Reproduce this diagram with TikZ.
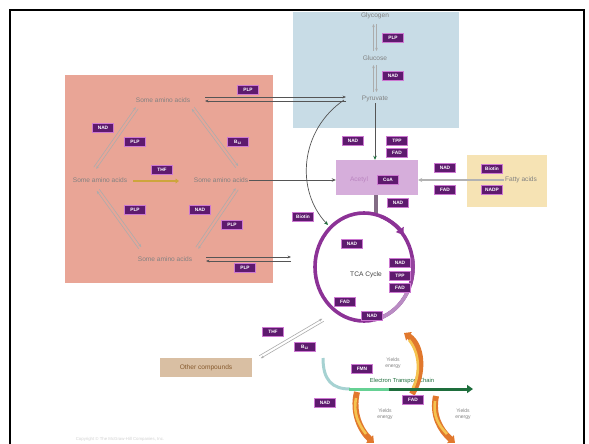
\documentclass[tikz,border=0pt]{standalone}
\usepackage{fontspec}
\setmainfont{Liberation Sans}
\usetikzlibrary{arrows.meta,calc}
\definecolor{labfill}{RGB}{94,26,110}
\definecolor{labedge}{RGB}{205,120,210}
\definecolor{bluebg}{RGB}{200,220,230}
\definecolor{redbg}{RGB}{233,165,150}
\definecolor{acbg}{RGB}{214,174,219}
\definecolor{yelbg}{RGB}{246,227,180}
\definecolor{tanbg}{RGB}{217,191,163}
\definecolor{tcapurple}{RGB}{140,50,150}
\definecolor{tcalight}{RGB}{185,140,195}
\definecolor{txtgray}{RGB}{130,130,130}
\definecolor{darkln}{RGB}{85,85,85}
\definecolor{arrgreen}{RGB}{30,110,60}
\definecolor{engorange}{RGB}{225,120,45}
\definecolor{engyellow}{RGB}{245,195,80}
\tikzset{
  lbl/.style={fill=labfill, draw=labedge, line width=0.8pt, text=white,
    font=\bfseries\fontsize{4.8}{5}\selectfont, inner sep=0pt,
    minimum width=21pt, minimum height=9pt},
  txt/.style={text=txtgray, font=\fontsize{6.6}{7.5}\selectfont, inner sep=1pt},
  pairln/.style={gray!65, line width=0.6pt},
  energy/.style={engorange, line width=6pt, -{Triangle[length=6pt,width=10pt]}},
  energyin/.style={engyellow, line width=2.6pt}
}
\newcommand{\pairarr}[2]{%
  \draw[pairln,-{Stealth[length=3.2pt,width=2.6pt]}] ($(#1)!1.5pt!90:(#2)$) -- ($(#2)!1.5pt!-90:(#1)$);
  \draw[pairln,-{Stealth[length=3.2pt,width=2.6pt]}] ($(#2)!1.5pt!90:(#1)$) -- ($(#1)!1.5pt!-90:(#2)$);}
\begin{document}
\begin{tikzpicture}[x=1pt,y=-1pt]
\useasboundingbox (0,0) rectangle (589,444);
\fill[white] (0,0) rectangle (589,444);
% background regions
\fill[bluebg] (293,12) rectangle (459,128);
\fill[redbg] (65,75) rectangle (273,283);
\fill[yelbg] (467,155) rectangle (547,207);
\fill[tanbg] (160,358) rectangle (252,377);
\node[fill=acbg, minimum width=82pt, minimum height=35pt, inner sep=0pt] (acbox) at (377,177.5) {};
% texts
\node[txt] (glycogen) at (375,16) {Glycogen};
\node[txt] (glucose) at (375,58) {Glucose};
\node[txt] (pyruvate) at (375,99) {Pyruvate};
\node[txt] (aa1) at (163,100) {Some amino acids};
\node[txt] (aa2) at (100,180) {Some amino acids};
\node[txt] (aa3) at (221,180) {Some amino acids};
\node[txt] (aa4) at (165,259) {Some amino acids};
\node[txt, text=tcapurple!60] (acetyl) at (359,180) {Acetyl};
\node[txt, text=black!75] (tca) at (366,275) {TCA Cycle};
\node[txt] (fatty) at (521,180) {Fatty acids};
\node[txt, text=brown!70!black] (other) at (206,367.5) {Other compounds};
\node[txt, text=arrgreen, font=\fontsize{5.8}{7}\selectfont] (etc) at (402,381) {Electron Transport Chain};
\node[txt, align=center, font=\fontsize{5}{5.8}\selectfont] (yield1) at (393,363) {Yields\\energy};
\node[txt, align=center, font=\fontsize{5}{5.8}\selectfont] (yield2) at (385,414) {Yields\\energy};
\node[txt, align=center, font=\fontsize{5}{5.8}\selectfont] (yield3) at (463,414) {Yields\\energy};
\node[text=gray!35, font=\fontsize{4.3}{5}\selectfont, inner sep=0pt] (copy) at (120,439) {Copyright \textcopyright{} The McGraw-Hill Companies, Inc.};
% coordinates for connectors
\coordinate (gly1) at (375,24); \coordinate (gly2) at (375,51);
\coordinate (glu1) at (375,65); \coordinate (glu2) at (375,92);
\coordinate (d1a) at (137,108); \coordinate (d1b) at (95,168);
\coordinate (d2a) at (193,108); \coordinate (d2b) at (237,167);
\coordinate (d3a) at (98,190); \coordinate (d3b) at (140,248);
\coordinate (d4a) at (237,189); \coordinate (d4b) at (197,248);
\coordinate (oc1) at (260,357); \coordinate (oc2) at (323,320);
\coordinate (tcac) at (364,267);
\coordinate (pyl) at (344,100);
% vertical pairs
\pairarr{gly1}{gly2}
\pairarr{glu1}{glu2}
% diagonals in red box
\pairarr{d1a}{d1b}
\pairarr{d2a}{d2b}
\pairarr{d3a}{d3b}
\pairarr{d4a}{d4b}
\pairarr{oc1}{oc2}
% horizontal arrows
\draw[darkln, line width=0.6pt, -{Stealth[length=3.5pt,width=2.8pt]}] (205,97) -- (346,97);
\draw[darkln, line width=0.6pt, -{Stealth[length=3.5pt,width=2.8pt]}] (346,101) -- (205,101);
\draw[darkln, line width=0.6pt, -{Stealth[length=3.5pt,width=2.8pt]}] (206,257) -- (291,257);
\draw[darkln, line width=0.6pt, -{Stealth[length=3.5pt,width=2.8pt]}] (291,261) -- (206,261);
\draw[color={rgb,255:red,205;green,165;blue,60}, line width=2pt, -{Triangle[length=3.5pt,width=5pt]}] (aa2.east)++(5,1) -- (179,181);
% pyruvate -> acetyl
\draw[darkln, line width=0.7pt, -{Stealth[length=4pt,width=3.5pt,color=arrgreen]}] (pyruvate.south) -- (acbox.north -| pyruvate.south);
% amino acids -> acetyl
\draw[darkln, line width=0.7pt, -{Stealth[length=4pt,width=3.5pt]}] (aa3.east) -- (aa3.east -| acbox.west);
% curved pyruvate -> TCA
\draw[darkln, line width=0.7pt, -{Stealth[length=4pt,width=3.5pt,color=arrgreen]}] (pyl) .. controls (300,130) and (295,190) .. (328,225);
% fatty acids -> acetyl
\draw[gray!60, line width=1.2pt, -{Stealth[length=4pt,width=4pt]}] (fatty.west) -- (fatty.west -| acbox.east);
% stem
\draw[gray!75!tcapurple, line width=4.5pt] (acbox.south -| 376,0) -- (376,214);
% TCA ring
\draw[tcapurple, line width=3.6pt] (tcac) ellipse [x radius=49, y radius=54];
\draw[tcalight, line width=3.6pt] (tcac) ++(20:49 and 54) arc [start angle=20, end angle=80, x radius=49, y radius=54];
\draw[tcapurple!80!tcalight, line width=3.6pt] (tcac) ++(-10:49 and 54) arc [start angle=-10, end angle=20, x radius=49, y radius=54];
\draw[tcapurple, line width=3.6pt, -{Triangle[length=7pt,width=9pt]}] (tcac) ++(-70:49 and 54) arc [start angle=-70, end angle=-36, x radius=49, y radius=54];
% energy arcs
\draw[energy] (412,394) .. controls (425,372) and (422,345) .. (404,333);
\draw[energyin] (413,388) .. controls (421,372) and (419,352) .. (409,340);
\draw[energy] (357,392) .. controls (352,412) and (360,430) .. (374,443);
\draw[energyin] (356,398) .. controls (353,412) and (358,424) .. (366,434);
\draw[energy] (436,396) .. controls (432,415) and (440,430) .. (455,443);
\draw[energyin] (435,401) .. controls (433,415) and (438,425) .. (447,434);
% electron transport arrow
\draw[teal!35, line width=3pt] (323,358) .. controls (323,380) and (332,389) .. (350,389);
\draw[teal!60!green!60!white, line width=3pt] (349,389) -- (390,389);
\draw[arrgreen, line width=3pt, -{Triangle[length=6pt,width=8pt]}] (389,389) -- (473,389);
% labels
\node[lbl] (plp1) at (393,38) {PLP};
\node[lbl] (nad1) at (393,76) {NAD};
\node[lbl] (plp2) at (248,90) {PLP};
\node[lbl] (nad2) at (103,128) {NAD};
\node[lbl] (plp3) at (135,142) {PLP};
\node[lbl] (b12a) at (238,142) {B\textsubscript{12}};
\node[lbl] (thf1) at (162,170) {THF};
\node[lbl] (plp4) at (135,210) {PLP};
\node[lbl] (nad3) at (200,210) {NAD};
\node[lbl] (plp5) at (232,225) {PLP};
\node[lbl] (plp6) at (245,268) {PLP};
\node[lbl] (nad4) at (353,141) {NAD};
\node[lbl] (tpp1) at (397,141) {TPP};
\node[lbl] (fad1) at (397,153) {FAD};
\node[lbl] (coa) at (388,180) {CoA};
\node[lbl] (nad5) at (445,168) {NAD};
\node[lbl] (fad2) at (445,190) {FAD};
\node[lbl] (bio2) at (492,169) {Biotin};
\node[lbl] (nadp) at (492,190) {NADP};
\node[lbl] (nad6) at (398,203) {NAD};
\node[lbl] (bio1) at (303,217) {Biotin};
\node[lbl] (nad7) at (352,244) {NAD};
\node[lbl] (nad8) at (400,263) {NAD};
\node[lbl] (tpp2) at (400,275.5) {TPP};
\node[lbl] (fad3) at (400,288) {FAD};
\node[lbl] (fad4) at (345,302) {FAD};
\node[lbl] (nad9) at (372,316) {NAD};
\node[lbl] (thf2) at (273,332) {THF};
\node[lbl] (b12b) at (305,347) {B\textsubscript{12}};
\node[lbl] (fmn) at (362,369) {FMN};
\node[lbl] (nad10) at (325,403) {NAD};
\node[lbl] (fad5) at (413,400) {FAD};
% frame
\draw[line width=2pt] (10,444) -- (10,10) -- (584,10) -- (584,444);
\end{tikzpicture}
\end{document}
